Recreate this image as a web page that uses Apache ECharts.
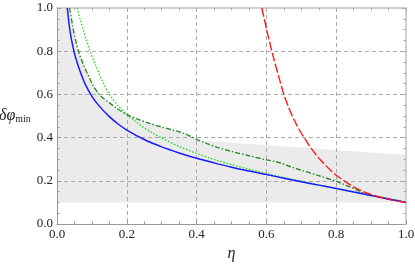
<!DOCTYPE html>
<html><head><meta charset="utf-8">
<script src="https://cdn.jsdelivr.net/npm/echarts@6/dist/echarts.min.js"></script>
<style>html,body{margin:0;padding:0;background:#fff}#c{width:415px;height:264px}</style>
</head><body><div id="c"></div>
<script>
const tickLabels = ['0.0','0.2','0.4','0.6','0.8','1.0'];

const blueSolid = [[0.0295,1.0],[0.035,0.92],[0.04,0.866],[0.05,0.79],[0.06,0.736],[0.07,0.69],[0.08,0.65],[0.1,0.591],[0.12,0.548],[0.15,0.497],[0.175,0.463],[0.2,0.435],[0.25,0.391],[0.3,0.357],[0.35,0.329],[0.4,0.304],[0.45,0.283],[0.5,0.263],[0.55,0.245],[0.6,0.229],[0.65,0.212],[0.7,0.196],[0.75,0.18],[0.8,0.164],[0.85,0.148],[0.9,0.132],[0.95,0.116],[1.0,0.1]];

const greenDotted = [[0.058,1.0],[0.066,0.95],[0.075,0.9],[0.084,0.852],[0.093,0.806],[0.11,0.738],[0.13,0.662],[0.15,0.6],[0.175,0.548],[0.2,0.507],[0.227,0.472],[0.25,0.445],[0.275,0.42],[0.3,0.398],[0.35,0.359],[0.4,0.327],[0.45,0.299],[0.5,0.275],[0.55,0.254],[0.6,0.234],[0.65,0.215],[0.7,0.198],[0.75,0.181],[0.8,0.165],[0.85,0.149],[0.9,0.133],[0.95,0.117],[1.0,0.1]];

const darkGreenDashDot = [[0.036,1.0],[0.0445,0.92],[0.051,0.866],[0.0635,0.79],[0.076,0.736],[0.089,0.69],[0.1,0.652],[0.117,0.608],[0.13,0.586],[0.146,0.566],[0.17,0.537],[0.2,0.507],[0.235,0.483],[0.267,0.465],[0.3,0.449],[0.33,0.436],[0.36,0.422],[0.38,0.408],[0.4,0.392],[0.43,0.372],[0.457,0.356],[0.5,0.336],[0.55,0.316],[0.6,0.297],[0.625,0.289],[0.645,0.28],[0.67,0.265],[0.7,0.249],[0.75,0.224],[0.8,0.197],[0.83,0.178],[0.86,0.157],[0.88,0.141],[0.9,0.133],[0.95,0.117],[1.0,0.1]];

const redDashed = [[0.587,1.0],[0.6,0.905],[0.609,0.844],[0.62,0.772],[0.638,0.667],[0.65,0.6],[0.665,0.535],[0.68,0.48],[0.695,0.434],[0.71,0.395],[0.725,0.358],[0.74,0.325],[0.755,0.296],[0.77,0.271],[0.785,0.247],[0.8,0.226],[0.825,0.197],[0.85,0.172],[0.875,0.152],[0.9,0.137],[0.95,0.114],[1.0,0.1]];

const shadeTop = [[0,1.0],[0.036,1.0],[0.0445,0.92],[0.051,0.866],[0.0635,0.79],[0.076,0.736],[0.089,0.69],[0.1,0.652],[0.117,0.608],[0.13,0.586],[0.146,0.566],[0.17,0.537],[0.2,0.507],[0.235,0.483],[0.267,0.465],[0.3,0.449],[0.33,0.436],[0.36,0.422],[0.38,0.408],[0.4,0.388],[1.0,0.32]];
const shadeBottom = 0.1;

const font = 'Liberation Serif';
const frameColor = '#999';
const labelStyle = {fontFamily:font,fontSize:13,color:'#222'};
const fmt = v => tickLabels[Math.round(v/0.2)];

function mainAxis(extra){
  return Object.assign({
    type:'value',min:0,max:1,interval:0.2,
    axisLine:{show:true,onZero:false,lineStyle:{color:frameColor,width:1}},
    axisTick:{show:true,inside:true,length:4,lineStyle:{color:frameColor}},
    minorTick:{show:true,splitNumber:4,length:2.5,lineStyle:{color:frameColor}},
    splitLine:{show:true,lineStyle:{color:'#aaa',type:[4,3],width:1}},
    axisLabel:Object.assign({formatter:fmt,margin:4},labelStyle)
  },extra);
}
function frameAxis(pos){
  return {
    type:'value',min:0,max:1,interval:0.2,position:pos,
    axisLine:{show:true,onZero:false,lineStyle:{color:'#d0d0d0',width:2}},
    axisTick:{show:true,inside:true,length:4,lineStyle:{color:'#aaa'}},
    minorTick:{show:true,splitNumber:4,length:2.5,lineStyle:{color:'#aaa'}},
    splitLine:{show:false},
    axisLabel:{show:false}
  };
}

const chart = echarts.init(document.getElementById('c'));
chart.setOption({
  animation:false,
  grid:{left:57,right:9,top:8,bottom:40,containLabel:false,outerBoundsMode:'none'},
  xAxis:[
    mainAxis({name:'η',nameLocation:'middle',nameGap:22,
      nameTextStyle:{fontFamily:font,fontStyle:'italic',fontSize:16,color:'#222'}}),
    frameAxis('top')
  ],
  yAxis:[
    mainAxis({name:'{a|δφ}{b|min}',nameLocation:'middle',nameGap:19,nameRotate:0,
      nameTextStyle:{align:'right',rich:{
        a:{fontFamily:font,fontStyle:'italic',fontSize:16,color:'#222'},
        b:{fontFamily:font,fontSize:10,color:'#222',padding:[7,0,0,0]}
      }}}),
    frameAxis('right')
  ],
  series:[
    {type:'line',data:shadeTop,showSymbol:false,z:-1,silent:true,
      lineStyle:{width:0},areaStyle:{color:'#ebebeb',opacity:1,origin:shadeBottom}},
    {type:'line',data:greenDotted,showSymbol:false,smooth:0.3,
      lineStyle:{color:'#22dd22',width:1.4,type:[1.5,1.8]}},
    {type:'line',data:darkGreenDashDot,showSymbol:false,smooth:0.3,
      lineStyle:{color:'#2a8a2a',width:1.4,type:[5,2,1.5,2]}},
    {type:'line',data:blueSolid,showSymbol:false,smooth:0.3,
      lineStyle:{color:'#1a1aff',width:1.5}},
    {type:'line',data:redDashed,showSymbol:false,smooth:0.3,
      lineStyle:{color:'#ff1a1a',width:1.4,type:[9,2.5]}}
  ]
});
</script></body></html>
